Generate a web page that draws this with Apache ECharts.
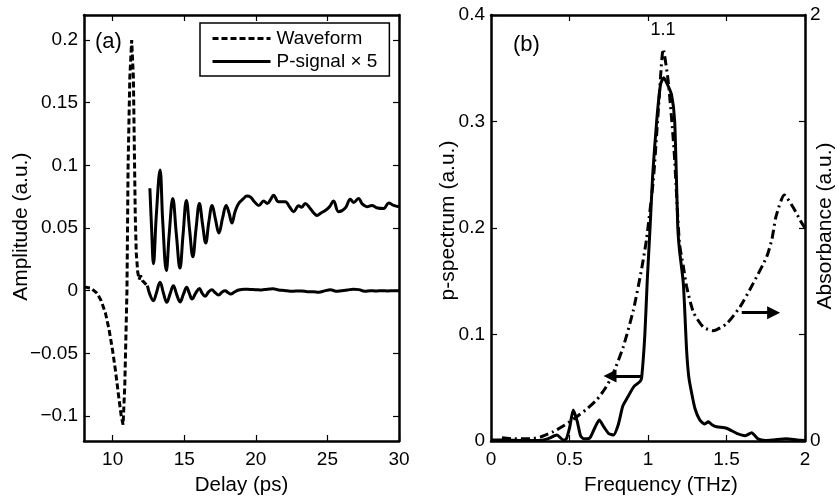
<!DOCTYPE html>
<html>
<head>
<meta charset="utf-8">
<script src="https://cdn.jsdelivr.net/npm/echarts@6/dist/echarts.min.js"></script>
<style>
html,body{margin:0;padding:0;background:#fff;}
#chart{width:837px;height:498px;}
</style>
</head>
<body>
<div id="chart"></div>
<script>
// ---------- tick labels ----------
const delayTicks = [10, 15, 20, 25, 30];
const ampTicks = [-0.1, -0.05, 0, 0.05, 0.1, 0.15, 0.2];
const freqTicks = [0, 0.5, 1, 1.5, 2];
const pTicks = [0, 0.1, 0.2, 0.3, 0.4];
const absLabelTicks = [0, 2];
const absTicks = [0, 0.5, 1, 1.5, 2];

// ---------- panel (a): [delay ps, amplitude] ----------
const waveformHead = [
  [8, 0.003], [8.5, 0.002], [8.9, -0.002], [9.2, -0.008], [9.5, -0.018], [9.75, -0.031],
  [10.0, -0.048], [10.2, -0.064], [10.45, -0.087], [10.6, -0.1], [10.73, -0.107],
  [10.85, -0.075], [10.93, -0.035], [11.0, 0.0], [11.08, 0.1], [11.2, 0.17], [11.33, 0.2],
  [11.45, 0.17], [11.52, 0.11], [11.58, 0.06], [11.65, 0.03], [11.75, 0.015], [11.85, 0.009],
  [11.95, 0.012], [12.08, 0.008], [12.25, 0.006], [12.43, 0.004]
];
const waveformTail = [
  [12.43, 0.004], [12.6, -0.003], [12.85, -0.008], [13.05, -0.002], [13.31, 0.0067],
  [13.55, -0.002], [13.78, -0.0093], [14.0, -0.003], [14.24, 0.004], [14.47, -0.003],
  [14.71, -0.009], [14.94, -0.003], [15.17, 0.0027], [15.35, -0.002], [15.55, -0.0067],
  [15.8, -0.002], [16.06, 0.0017], [16.25, -0.002], [16.46, -0.0045], [16.7, -0.001],
  [16.93, 0.0008], [17.15, -0.0015], [17.4, -0.0035], [17.65, -0.001], [17.86, 0.0],
  [18.05, -0.0015], [18.25, -0.0027], [18.5, -0.0012], [18.8, 0.0005], [19.2, 0.0012],
  [19.6, 0.001], [20.0, 0.0008], [20.4, 0.0005], [20.8, 0.0012], [21.2, 0.0015], [21.6, 0.0005],
  [22.0, 0.0002], [22.4, -0.0005], [22.8, -0.0003], [23.2, -0.0002], [23.6, -0.0008],
  [24.0, -0.0008], [24.4, -0.0012], [24.8, -0.0002], [25.2, 0.0008], [25.6, -0.0005],
  [26.0, 0.0], [26.4, 0.0005], [26.8, 0.0012], [27.2, 0.0008], [27.6, -0.0005], [28.0, 0.0],
  [28.4, -0.0003], [28.8, 0.0], [29.2, -0.0002], [29.6, 0.0], [30.0, 0.0]
];
const pSignal = [
  [12.6, 0.0817], [12.72, 0.05], [12.85, 0.0214], [13.05, 0.06], [13.31, 0.0963], [13.5, 0.055],
  [13.75, 0.016], [13.95, 0.045], [14.2, 0.0736], [14.45, 0.045], [14.7, 0.018], [14.92, 0.045],
  [15.15, 0.072], [15.38, 0.048], [15.6, 0.027], [15.83, 0.05], [16.06, 0.0696], [16.28, 0.053],
  [16.5, 0.038], [16.72, 0.055], [16.95, 0.068], [17.18, 0.057], [17.42, 0.046], [17.68, 0.058],
  [17.93, 0.068], [18.13, 0.062], [18.33, 0.054], [18.55, 0.063], [18.8, 0.0696], [19.1, 0.073],
  [19.38, 0.0755], [19.6, 0.075], [19.9, 0.071], [20.2, 0.068], [20.55, 0.0715], [20.8, 0.0696],
  [21.05, 0.073], [21.24, 0.0762], [21.59, 0.071], [22.06, 0.071], [22.35, 0.067], [22.64, 0.063],
  [22.99, 0.0677], [23.2, 0.0665], [23.45, 0.0696], [23.8, 0.0656], [24.05, 0.062], [24.27, 0.06],
  [24.55, 0.062], [24.85, 0.064], [25.15, 0.067], [25.43, 0.0715], [25.78, 0.063], [26.25, 0.066],
  [26.6, 0.073], [26.83, 0.0704], [27.17, 0.0736], [27.45, 0.069], [27.76, 0.067], [28.1, 0.068],
  [28.5, 0.066], [28.93, 0.0656], [29.28, 0.07], [29.63, 0.068], [30.0, 0.067]
];

// ---------- panel (b): [frequency THz, value] ----------
const pSpectrum = [
  [0, 0.001], [0.05, 0.001], [0.1, 0.001], [0.2, 0.0005], [0.3, 0.0005], [0.36, 0.002],
  [0.42, 0.0056], [0.46, 0.001], [0.48, 0.002], [0.5, 0.012], [0.524, 0.029], [0.55, 0.018],
  [0.57, 0.005], [0.59, 0.002], [0.63, 0.003], [0.66, 0.012], [0.69, 0.0197], [0.72, 0.013],
  [0.75, 0.007], [0.78, 0.0056], [0.81, 0.015], [0.84, 0.033], [0.87, 0.041], [0.91, 0.051],
  [0.95, 0.056], [0.96, 0.06], [0.98, 0.1], [0.995, 0.15], [1.013, 0.2], [1.03, 0.25],
  [1.055, 0.3], [1.08, 0.335], [1.1, 0.341], [1.12, 0.336], [1.15, 0.325], [1.17, 0.3],
  [1.19, 0.2], [1.2, 0.18], [1.225, 0.148], [1.246, 0.085], [1.26, 0.06], [1.278, 0.045],
  [1.3, 0.03], [1.33, 0.0197], [1.36, 0.016], [1.384, 0.018], [1.41, 0.015], [1.437, 0.0134],
  [1.5, 0.012], [1.565, 0.0072], [1.62, 0.005], [1.66, 0.0078], [1.7, 0.002], [1.75, 0.0005],
  [1.8, 0.001], [1.88, 0.002], [1.95, 0.001], [2.0, 0.0005]
];
const absorbance = [
  [0.07, 0.015], [0.15, 0.01], [0.25, 0.01], [0.32, 0.02], [0.397, 0.044], [0.47, 0.075],
  [0.546, 0.114], [0.61, 0.15], [0.673, 0.193], [0.73, 0.25], [0.779, 0.318], [0.843, 0.443],
  [0.907, 0.615], [0.96, 0.81], [0.99, 0.945], [1.034, 1.225], [1.066, 1.555], [1.097, 1.84],
  [1.13, 1.68], [1.166, 1.365], [1.2, 0.93], [1.225, 0.82], [1.246, 0.725], [1.289, 0.605],
  [1.352, 0.535], [1.416, 0.518], [1.5, 0.55], [1.586, 0.63], [1.67, 0.74], [1.756, 0.865],
  [1.79, 0.95], [1.815, 1.053], [1.868, 1.155], [1.93, 1.09], [1.968, 1.038], [2.0, 1.0]
];

// annotation arrows (data coords of panel b, left axis units)
const leftArrow = [[0.958, 0.061], [0.758, 0.061]];
const rightArrow = [[1.597, 0.1205], [1.80, 0.1205]];

const FONT = '"Liberation Sans", Arial, Helvetica, sans-serif';
const BLACK = '#000';
const fmt = v => (v === 0 ? '0' : String(+v.toFixed(3)).replace('-', '\u2212'));

function axisBase(extra) {
  return Object.assign({
    type: 'value',
    axisLine: { show: true, onZero: false, lineStyle: { color: BLACK, width: 2.5 } },
    splitLine: { show: false },
    axisLabel: { color: BLACK, fontSize: 19, fontFamily: FONT, formatter: fmt },
  }, extra);
}
const tick = vals => ({ inside: true, length: 6, customValues: vals, lineStyle: { color: BLACK, width: 1.2 } });

const chart = echarts.init(document.getElementById('chart'), null, { renderer: 'canvas' });
chart.setOption({
  animation: false,
  backgroundColor: '#fff',
  color: [BLACK, BLACK, BLACK, BLACK, BLACK],
  grid: [
    { left: 84, right: 438, top: 15, bottom: 57 },
    { left: 491, right: 32, top: 15, bottom: 57 }
  ],
  xAxis: [
    axisBase({ gridIndex: 0, position: 'bottom', min: 8, max: 30, axisTick: tick(delayTicks),
      axisLabel: { color: BLACK, fontSize: 19, fontFamily: FONT, margin: 9, customValues: delayTicks, formatter: fmt } }),
    axisBase({ gridIndex: 0, position: 'top', min: 8, max: 30, axisTick: tick(delayTicks),
      axisLabel: { show: false } }),
    axisBase({ gridIndex: 1, position: 'bottom', min: 0, max: 2, axisTick: tick(freqTicks),
      axisLabel: { color: BLACK, fontSize: 19, fontFamily: FONT, margin: 9, customValues: freqTicks, formatter: fmt } }),
    axisBase({ gridIndex: 1, position: 'top', min: 0, max: 2, axisTick: tick(freqTicks),
      axisLabel: { show: false } })
  ],
  yAxis: [
    axisBase({ gridIndex: 0, position: 'left', min: -0.12, max: 0.22, axisTick: tick(ampTicks),
      axisLabel: { color: BLACK, fontSize: 19, fontFamily: FONT, margin: 6, customValues: ampTicks, formatter: fmt } }),
    axisBase({ gridIndex: 0, position: 'right', min: -0.12, max: 0.22, axisTick: tick(ampTicks),
      axisLabel: { show: false } }),
    axisBase({ gridIndex: 1, position: 'left', min: 0, max: 0.4, axisTick: tick(pTicks),
      axisLabel: { color: BLACK, fontSize: 19, fontFamily: FONT, margin: 6, customValues: pTicks, formatter: fmt } }),
    axisBase({ gridIndex: 1, position: 'right', min: 0, max: 2, axisTick: tick(absTicks),
      axisLabel: { color: BLACK, fontSize: 19, fontFamily: FONT, margin: 5, customValues: absLabelTicks, formatter: fmt } })
  ],
  legend: {
    orient: 'vertical',
    left: 200, top: 23,
    padding: [6, 12, 5, 11],
    itemGap: 4,
    itemWidth: 58, itemHeight: 18,
    borderColor: BLACK, borderWidth: 1.5,
    backgroundColor: '#fff',
    selectedMode: false,
    itemStyle: { opacity: 0 },
    lineStyle: { width: 3 },
    textStyle: { color: BLACK, fontSize: 19, fontFamily: FONT, padding: [0, 0, 0, 1] },
    data: ['Waveform', 'P-signal \u00d7 5']
  },
  series: [
    { name: 'Waveform', type: 'line', xAxisIndex: 0, yAxisIndex: 0, data: waveformHead,
      showSymbol: false, symbol: 'none', silent: true, itemStyle: { color: BLACK },
      lineStyle: { color: BLACK, width: 3, type: [6, 3], cap: 'butt' } },
    { name: 'Waveform', type: 'line', xAxisIndex: 0, yAxisIndex: 0, data: waveformTail,
      showSymbol: false, symbol: 'none', smooth: 0.4, silent: true, itemStyle: { color: BLACK },
      lineStyle: { color: BLACK, width: 3, type: 'solid' } },
    { name: 'P-signal \u00d7 5', type: 'line', xAxisIndex: 0, yAxisIndex: 0, data: pSignal,
      showSymbol: false, symbol: 'none', smooth: 0.4, silent: true, itemStyle: { color: BLACK },
      lineStyle: { color: BLACK, width: 3, type: 'solid' } },
    { name: 'p-spectrum', type: 'line', xAxisIndex: 2, yAxisIndex: 2, data: pSpectrum,
      showSymbol: false, symbol: 'none', smooth: 0.2, silent: true, itemStyle: { color: BLACK },
      lineStyle: { color: BLACK, width: 3, type: 'solid' },
      markLine: {
        silent: true, symbol: ['none', 'triangle'], symbolSize: [13, 13],
        label: { show: false },
        itemStyle: { color: BLACK },
        lineStyle: { color: BLACK, width: 3, type: 'solid' },
        data: [
          [{ coord: leftArrow[0] }, { coord: leftArrow[1] }],
          [{ coord: rightArrow[0] }, { coord: rightArrow[1] }]
        ]
      } },
    { name: 'Absorbance', type: 'line', xAxisIndex: 2, yAxisIndex: 3, data: absorbance,
      showSymbol: false, symbol: 'none', smooth: 0.2, silent: true, itemStyle: { color: BLACK },
      lineStyle: { color: BLACK, width: 3, type: [9, 4, 2, 4], cap: 'butt' } }
  ],
  graphic: [
    { type: 'text', x: 21.7, y: 226.7, rotation: Math.PI / 2,
      style: { text: 'Amplitude (a.u.)', fill: BLACK, font: '21px ' + FONT, textAlign: 'center', textVerticalAlign: 'middle' } },
    { type: 'text', x: 241.5, y: 485,
      style: { text: 'Delay (ps)', fill: BLACK, font: '20.5px ' + FONT, textAlign: 'center', textVerticalAlign: 'middle' } },
    { type: 'text', x: 448.3, y: 220.5, rotation: Math.PI / 2,
      style: { text: 'p-spectrum (a.u.)', fill: BLACK, font: '21px ' + FONT, textAlign: 'center', textVerticalAlign: 'middle' } },
    { type: 'text', x: 825, y: 226, rotation: Math.PI / 2,
      style: { text: 'Absorbance (a.u.)', fill: BLACK, font: '21px ' + FONT, textAlign: 'center', textVerticalAlign: 'middle' } },
    { type: 'text', x: 661, y: 485,
      style: { text: 'Frequency (THz)', fill: BLACK, font: '20.5px ' + FONT, textAlign: 'center', textVerticalAlign: 'middle' } },
    { type: 'text', x: 95, y: 42,
      style: { text: '(a)', fill: BLACK, font: '22px ' + FONT, textAlign: 'left', textVerticalAlign: 'middle' } },
    { type: 'text', x: 513, y: 45,
      style: { text: '(b)', fill: BLACK, font: '22px ' + FONT, textAlign: 'left', textVerticalAlign: 'middle' } },
    { type: 'text', x: 663, y: 30,
      style: { text: '1.1', fill: BLACK, font: '18px ' + FONT, textAlign: 'center', textVerticalAlign: 'middle' } }
  ]
});
</script>
</body>
</html>
